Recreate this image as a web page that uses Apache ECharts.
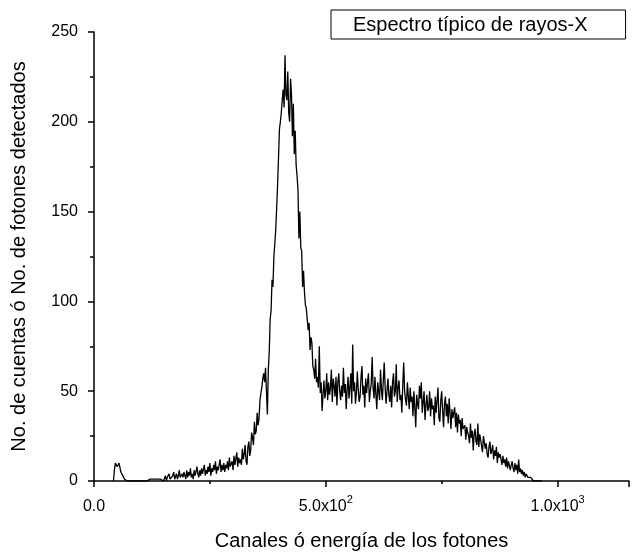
<!DOCTYPE html>
<html>
<head>
<meta charset="utf-8">
<script src="https://cdn.jsdelivr.net/npm/echarts@6/dist/echarts.min.js"></script>
<style>
html,body{margin:0;padding:0;background:#fff;}
#chart{width:640px;height:556px;}
</style>
</head>
<body>
<div id="chart"></div>
<script>
// ---- data ----
var seriesName = 'Espectro típico de rayos-X';
var xTitle = 'Canales ó energía de los fotones';
var yTitle = 'No. de cuentas ó No. de fotones detectados';
var firstChannel = 42;   // channel of the first count
var channelStep = 2;     // channels between samples
var counts = [
  0,6,10,11,8,7,10,9,5,4,
  3,2,1,1,0,0,0,0,0,0,
  0,0,0,0,0,0,1,0,0,0,
  0,0,0,0,0,0,0,0,0,1,
  0,0,1,0,0,1,0,0,1,0,
  0,1,0,2,0,1,3,0,2,1,
  4,1,2,0,3,5,1,2,4,1,
  3,6,2,1,4,2,5,3,1,6,
  2,5,3,7,2,4,1,6,3,5,
  8,4,2,6,3,7,4,5,9,3,
  6,4,8,5,10,3,7,5,9,6,
  11,4,8,6,7,12,5,9,6,10,
  5,9,7,11,6,13,8,7,11,6,
  14,9,10,16,8,13,10,12,9,18,
  12,15,20,11,9,19,22,14,17,27,
  24,20,33,26,28,38,31,35,45,49,
  52,57,60,55,63,50,37,62,72,90,
  95,112,108,125,132,140,152,165,180,196,
  200,205,212,218,208,237,215,212,228,205,
  200,224,215,192,210,182,195,176,170,162,
  135,150,130,128,108,117,105,98,96,90,
  84,88,73,80,77,64,62,57,68,55,
  58,52,75,49,55,39,48,56,46,50,
  60,45,55,48,52,62,44,57,53,47,
  58,42,55,60,50,45,53,47,63,49,
  54,40,51,58,46,52,60,43,76,50,
  55,43,49,61,51,44,47,58,64,48,
  53,41,57,49,55,60,44,50,54,69,
  52,46,58,48,40,55,50,45,62,51,
  45,56,66,52,43,50,57,48,44,53,
  41,55,60,47,50,65,44,52,56,45,
  48,38,53,66,50,45,42,55,47,40,
  52,44,47,36,50,41,30,48,43,40,
  53,46,55,38,44,50,34,42,48,39,
  41,50,36,46,40,42,31,47,38,45,
  52,35,33,45,50,39,30,43,47,36,
  43,32,46,38,29,40,35,34,41,30,
  38,27,37,32,34,25,35,29,28,31,
  23,30,27,25,21,32,24,28,17,26,
  29,22,20,32,19,26,23,22,16,25,
  24,18,21,15,13,19,22,15,17,20,
  12,17,14,19,10,16,13,15,12,9,
  14,10,12,8,13,7,11,10,6,9,
  11,7,5,10,6,9,4,12,5,7,
  4,6,3,5,2,4,3,2,1,3,
  2,1,2,0,1,1,0,1,0,0,
  1,0,0
];
var xTickTexts = {0: ['0.0', ''], 500: ['5.0x10', '2'], 1000: ['1.0x10', '3']};
var xMin = 0, xMax = 1154, xInterval = 500;
var yMin = 0, yMax = 250, yInterval = 50;

// ---- build series points ----
var points = counts.map(function (c, i) { return [firstChannel + i * channelStep, c]; });

var chart = echarts.init(document.getElementById('chart'), null, {renderer: 'canvas'});
var font = 'Liberation Sans, Arial, sans-serif';
chart.setOption({
  animation: false,
  backgroundColor: '#fff',
  textStyle: {fontFamily: font, color: '#000'},
  grid: {left: 94, right: 11, top: 32, bottom: 74, containLabel: false},
  legend: {
    data: [seriesName],
    icon: 'none',
    itemWidth: 0,
    itemHeight: 0,
    left: 331, top: 10,
    padding: [5, 38, 4, 17],
    borderColor: '#000', borderWidth: 1,
    textStyle: {fontFamily: font, fontSize: 20, color: '#000'}
  },
  xAxis: {
    type: 'value', min: xMin, max: xMax, interval: xInterval,
    name: xTitle, nameLocation: 'middle', nameGap: 50,
    nameTextStyle: {fontFamily: font, fontSize: 20, color: '#000'},
    axisLine: {lineStyle: {color: '#000', width: 1.5}},
    axisTick: {inside: false, length: 6, lineStyle: {color: '#000', width: 1.5}},
    minorTick: {show: true, splitNumber: 2, length: 3, lineStyle: {color: '#000', width: 1.5}},
    splitLine: {show: false},
    axisLabel: {
      margin: 13,
      formatter: function (v) {
        var t = xTickTexts[v];
        if (!t) return '';
        return t[1] ? '{a|' + t[0] + '}{b|' + t[1] + '}' : '{a|' + t[0] + '}';
      },
      rich: {
        a: {fontFamily: font, fontSize: 16, color: '#000', padding: [5, 0, 0, 0]},
        b: {fontFamily: font, fontSize: 11, color: '#000', verticalAlign: 'top'}
      }
    }
  },
  yAxis: {
    type: 'value', min: yMin, max: yMax, interval: yInterval,
    name: yTitle, nameLocation: 'middle', nameGap: 65,
    nameTextStyle: {fontFamily: font, fontSize: 20, color: '#000'},
    axisLine: {show: true, lineStyle: {color: '#000', width: 1.5}},
    axisTick: {show: true, inside: false, length: 6, lineStyle: {color: '#000', width: 1.5}},
    minorTick: {show: true, splitNumber: 2, length: 4, lineStyle: {color: '#000', width: 1.5}},
    splitLine: {show: false},
    axisLabel: {margin: 16, fontFamily: font, fontSize: 16, color: '#000'}
  },
  series: [{
    name: seriesName,
    type: 'line',
    data: points,
    showSymbol: false,
    symbol: 'none',
    lineStyle: {color: '#000', width: 1.3},
    itemStyle: {color: '#000'}
  }]
});
</script>
</body>
</html>
